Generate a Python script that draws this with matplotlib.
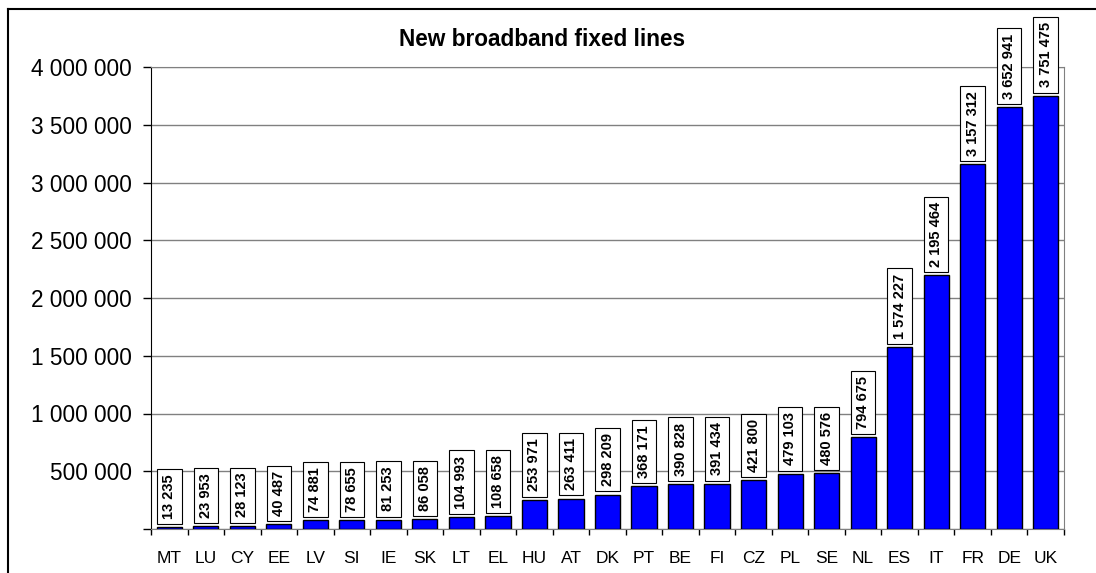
import numpy as np
import matplotlib
matplotlib.use("Agg")
import matplotlib.pyplot as plt
from matplotlib.ticker import FuncFormatter, FixedLocator

plt.rcParams['font.family'] = ['Liberation Sans', 'DejaVu Sans']

countries = ["MT", "LU", "CY", "EE", "LV", "SI", "IE", "SK", "LT", "EL", "HU", "AT", "DK",
             "PT", "BE", "FI", "CZ", "PL", "SE", "NL", "ES", "IT", "FR", "DE", "UK"]
lines = [13235, 23953, 28123, 40487, 74881, 78655, 81253, 86058, 104993, 108658, 253971,
         263411, 298209, 368171, 390828, 391434, 421800, 479103, 480576, 794675, 1574227,
         2195464, 3157312, 3652941, 3751475]
yticks = [0, 500000, 1000000, 1500000, 2000000, 2500000, 3000000, 3500000, 4000000]


def spaced(v):
    return "{:,}".format(int(v)).replace(",", " ")


fig = plt.figure(figsize=(10.96, 5.73), dpi=100)
ax = fig.add_axes([151 / 1096, 1 - 529 / 573, (1064 - 151) / 1096, (529 - 67) / 573])

x = np.arange(len(countries))
ax.bar(x, lines, width=0.69, color="#0000ff", edgecolor="black", linewidth=1, zorder=3)

for xi, v in zip(x, lines):
    ax.annotate(spaced(v), (xi, v), xytext=(0, 6), textcoords="offset points",
                rotation=90, ha="center", va="bottom", fontsize=10.5, fontweight="bold",
                bbox=dict(boxstyle="square,pad=0.36", fc="white", ec="black", lw=0.8),
                zorder=4)

ax.set_xlim(-0.5, len(countries) - 0.5)
ax.set_ylim(0, 4000000)
ax.set_yticks(yticks)
ax.yaxis.set_major_formatter(FuncFormatter(lambda v, p: "" if v == 0 else spaced(v)))
ax.tick_params(axis="y", direction="out", length=5.5, width=1, labelsize=16.3, pad=8.5)
ax.yaxis.grid(True, color="#808080", linewidth=1, zorder=0)

ax.set_xticks(x)
ax.set_xticklabels(countries)
ax.xaxis.set_minor_locator(FixedLocator(np.arange(-0.5, len(countries), 1.0)))
ax.tick_params(axis="x", which="major", length=0, labelsize=12.5, pad=16)
ax.tick_params(axis="x", which="minor", direction="out", length=4, width=1)

ax.spines["left"].set_color("black")
ax.spines["bottom"].set_color("#808080")
ax.spines["top"].set_color("#808080")
ax.spines["right"].set_color("#808080")

fig.text(542 / 1096, 1 - 46 / 573, "New broadband fixed lines", ha="center", va="baseline",
         fontsize=16.3, fontweight="bold")

# outer frame
fig.add_artist(plt.Line2D([8 / 1096, 1], [1 - 9 / 573, 1 - 9 / 573], color="black", lw=1.5))
fig.add_artist(plt.Line2D([8 / 1096, 8 / 1096], [0, 1 - 9 / 573], color="black", lw=1.5))

fig.savefig("out.png", dpi=100)
